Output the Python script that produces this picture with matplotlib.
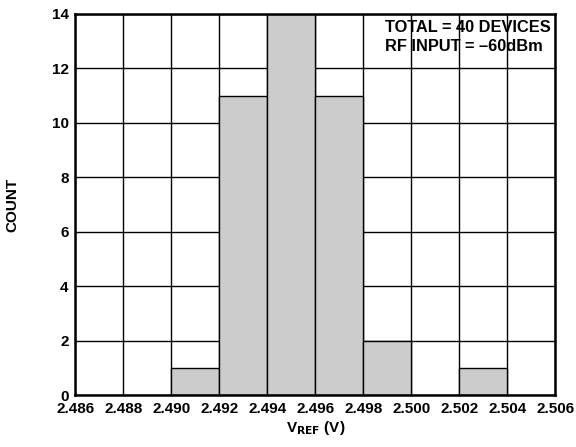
import matplotlib
matplotlib.use("Agg")
import matplotlib.pyplot as plt

# histogram of reference voltage, bin edges in volts
bin_left = [2.490, 2.492, 2.494, 2.496, 2.498, 2.502]
counts = [1, 11, 14, 11, 2, 1]
bin_width = 0.002

x_ticks = [2.486, 2.488, 2.490, 2.492, 2.494, 2.496, 2.498, 2.500, 2.502, 2.504, 2.506]
y_ticks = [0, 2, 4, 6, 8, 10, 12, 14]

plt.rcParams["font.family"] = ["Liberation Sans", "DejaVu Sans"]
plt.rcParams["font.weight"] = "bold"

fig = plt.figure(figsize=(5.76, 4.47), dpi=100)
ax = fig.add_axes([0.131, 0.116, 0.833, 0.853])

ax.bar(bin_left, counts, width=bin_width, align="edge",
       color="#cccccc", edgecolor="black", linewidth=1.0, zorder=3)

ax.set_xlim(x_ticks[0], x_ticks[-1])
ax.set_ylim(0, 14)
ax.set_xticks(x_ticks)
ax.set_xticklabels([f"{v:.3f}" for v in x_ticks])
ax.set_yticks(y_ticks)
ax.grid(True, color="black", linewidth=1.0, zorder=1)
ax.set_axisbelow(True)
ax.tick_params(axis="y", length=0, labelsize=11, pad=5)
ax.tick_params(axis="x", length=0, labelsize=11, pad=5)
for lab in ax.get_xticklabels() + ax.get_yticklabels():
    lab.set_fontweight("bold")
for sp in ax.spines.values():
    sp.set_linewidth(1.8)
    sp.set_zorder(5)

ax.set_xlabel(r"V$_{\mathbf{REF}}$ (V)", fontsize=11, fontweight="bold", labelpad=2)
ax.set_ylabel("COUNT", fontsize=11, fontweight="bold", labelpad=23)

ax.text(0.645, 0.983, "TOTAL = 40 DEVICES\nRF INPUT = \u201360dBm",
        transform=ax.transAxes, ha="left", va="top", fontsize=11.8,
        fontweight="bold", linespacing=1.3, zorder=6)

fig.savefig("out.png", dpi=100)
